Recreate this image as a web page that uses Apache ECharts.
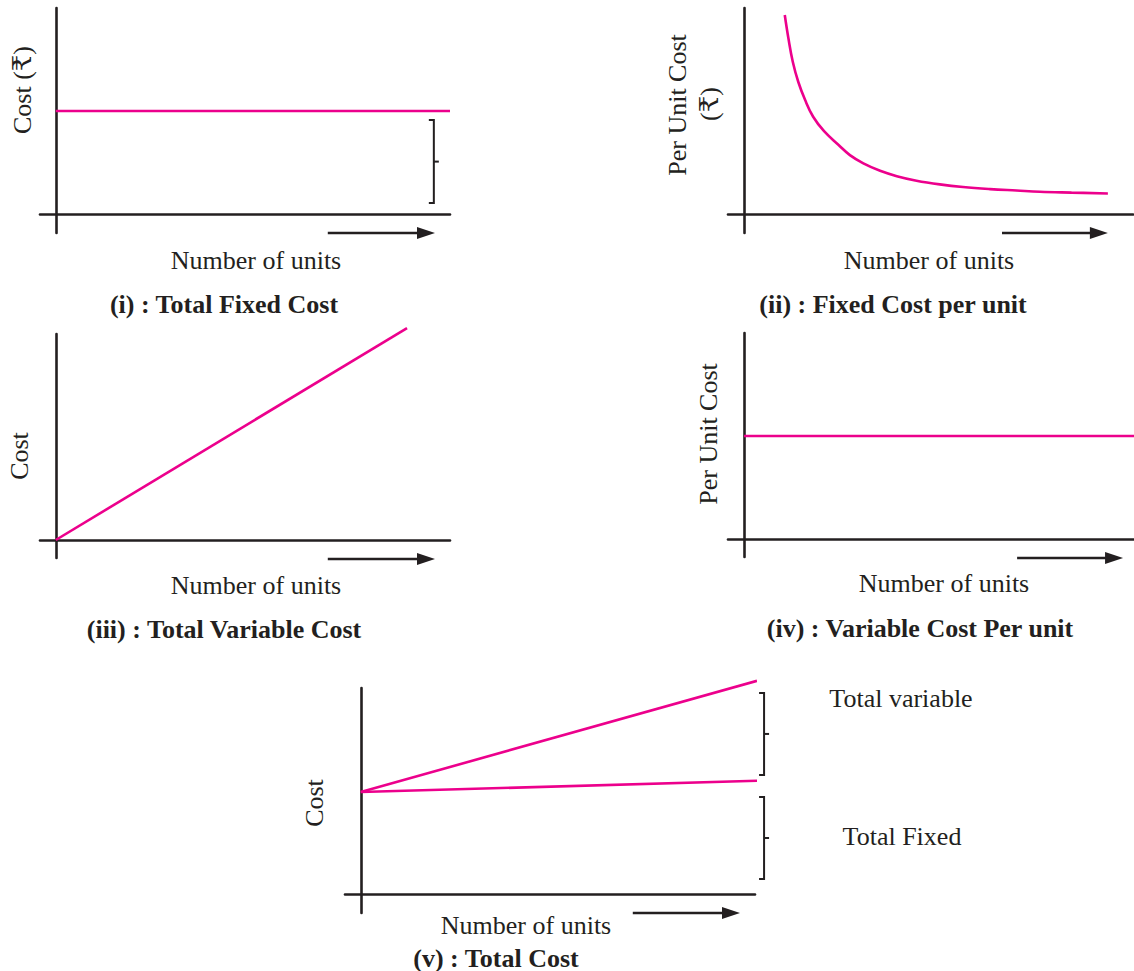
<!DOCTYPE html>
<html>
<head>
<meta charset="utf-8">
<script src="https://cdn.jsdelivr.net/npm/echarts@6/dist/echarts.min.js"></script>
<style>
  html, body { margin: 0; padding: 0; background: #ffffff; }
  #chart { width: 1134px; height: 971px; }
</style>
</head>
<body>
<div id="chart"></div>
<script>
// ---------- data (conceptual units) ----------
const totalFixedCost      = [[0, 5.0], [10, 5.0]];
const fixedCostPerUnit    = [[1.12, 9.66], [1.22, 8.53], [1.34, 7.39], [1.49, 6.42], [1.68, 5.53],
                             [1.9, 4.72], [2.2, 4.02], [2.6, 3.35], [2.91, 2.86], [3.28, 2.46],
                             [3.74, 2.1], [4.2, 1.84], [4.74, 1.62], [5.38, 1.44], [6.02, 1.31],
                             [6.76, 1.21], [7.49, 1.14], [8.13, 1.08], [9.0, 1.04], [10.0, 1.0]];
const totalVariableCost   = [[0, 0], [8.91, 10.29]];
const variableCostPerUnit = [[0, 5.0], [10.71, 5.0]];
const totalCostUpper      = [[0, 4.95], [10.05, 10.35]];
const totalCostLower      = [[0, 4.95], [10.1, 5.5]];

// braces: [x, yBottom, yTop]
const braceI = [[9.59, 0.53, 4.56]];
const braceV = [[10.23, 5.78, 9.76], [10.23, 0.73, 4.71]];
// direction arrows: [xStart, xEnd, y]
const arrowI   = [[6.9, 9.62, -0.92]];
const arrowII  = [[7.09, 10.0, -0.92]];
const arrowIII = [[6.9, 9.62, -0.92]];
const arrowIV  = [[7.5, 10.41, -0.92]];
const arrowV   = [[6.9, 9.62, -0.92]];

// texts
const xName = 'Number of units';
const titles = ['(i) : Total Fixed Cost', '(ii) : Fixed Cost per unit', '(iii) : Total Variable Cost',
                '(iv) : Variable Cost Per unit', '(v) : Total Cost'];
const yNames = ['Cost (₹)', 'Per Unit Cost', 'Cost', 'Per Unit Cost', 'Cost'];
const sideLabels = ['Total variable', 'Total Fixed'];

// ---------- styling ----------
const PINK = '#ec008c';
const INK = '#231f20';
const FONT = "'Liberation Serif', 'Times New Roman', 'DejaVu Serif', serif";

const grids = [
  { left: 40,  top: 8,   width: 410, height: 225 },
  { left: 728, top: 8,   width: 405, height: 225 },
  { left: 40,  top: 334, width: 410, height: 224 },
  { left: 728, top: 333, width: 406, height: 224 },
  { left: 345, top: 688, width: 410, height: 225 }
];
const xRanges = [[-0.4, 10], [-0.44, 10.69], [-0.4, 10], [-0.44, 10.71], [-0.4, 10]];
const yRanges = [[-0.92, 10], [-0.92, 10], [-0.874, 10], [-0.874, 10], [-0.92, 10]];

function axis(i, range) {
  return {
    type: 'value', gridIndex: i, min: range[0], max: range[1],
    axisLine: { show: true, onZero: true, lineStyle: { color: INK, width: 2.6 } },
    axisTick: { show: false }, axisLabel: { show: false }, splitLine: { show: false }
  };
}

function lineSeries(i, data, smooth) {
  return {
    type: 'line', xAxisIndex: i, yAxisIndex: i, data: data, symbol: 'none',
    smooth: smooth ? 0.4 : false,
    clip: false, silent: true,
    lineStyle: { color: PINK, width: 2.6 }
  };
}

function braceSeries(i, data) {
  return {
    type: 'custom', xAxisIndex: i, yAxisIndex: i, data: data, silent: true, clip: false,
    renderItem: function (params, api) {
      const x = api.value(0), y0 = api.value(1), y1 = api.value(2);
      const top = api.coord([x, y1]), bot = api.coord([x, y0]), mid = api.coord([x, (y0 + y1) / 2]);
      const st = { stroke: INK, lineWidth: 2, fill: null };
      return {
        type: 'group', children: [
          { type: 'polyline', shape: { points: [[top[0] - 5, top[1]], top, bot, [bot[0] - 5, bot[1]]] }, style: st },
          { type: 'line', shape: { x1: mid[0], y1: mid[1], x2: mid[0] + 5, y2: mid[1] }, style: st }
        ]
      };
    }
  };
}

function arrowSeries(i, data) {
  return {
    type: 'custom', xAxisIndex: i, yAxisIndex: i, data: data, silent: true, clip: false,
    encode: { x: [0, 1], y: 2 },
    renderItem: function (params, api) {
      const a = api.coord([api.value(0), api.value(2)]);
      const b = api.coord([api.value(1), api.value(2)]);
      const head = 18, half = 6;
      return {
        type: 'group', children: [
          { type: 'line', shape: { x1: a[0], y1: a[1], x2: b[0] - head + 2, y2: b[1] },
            style: { stroke: INK, lineWidth: 2.6 } },
          { type: 'polygon', shape: { points: [[b[0], b[1]], [b[0] - head, b[1] - half], [b[0] - head, b[1] + half]] },
            style: { fill: INK } }
        ]
      };
    }
  };
}

function txt(text, x, y, opts) {
  opts = opts || {};
  return {
    type: 'text', x: x, y: y, rotation: opts.rot ? Math.PI / 2 : 0, silent: true,
    style: {
      text: text, fill: INK, fontSize: opts.size || 26, fontFamily: FONT,
      fontWeight: opts.bold ? 'bold' : 'normal',
      textAlign: 'center', textVerticalAlign: 'middle', align: 'center', verticalAlign: 'middle'
    }
  };
}

const option = {
  animation: false,
  backgroundColor: '#ffffff',
  grid: grids,
  xAxis: grids.map((g, i) => axis(i, xRanges[i])),
  yAxis: grids.map((g, i) => axis(i, yRanges[i])),
  series: [
    lineSeries(0, totalFixedCost),
    lineSeries(1, fixedCostPerUnit, true),
    lineSeries(2, totalVariableCost),
    lineSeries(3, variableCostPerUnit),
    lineSeries(4, totalCostUpper),
    lineSeries(4, totalCostLower),
    braceSeries(0, braceI),
    braceSeries(4, braceV),
    arrowSeries(0, arrowI),
    arrowSeries(1, arrowII),
    arrowSeries(2, arrowIII),
    arrowSeries(3, arrowIV),
    arrowSeries(4, arrowV)
  ],
  graphic: [
    // panel i
    txt(yNames[0], 22, 90, { rot: true }),
    txt(xName, 256, 260),
    txt(titles[0], 224, 304, { bold: true }),
    // panel ii
    txt(yNames[1], 677, 105, { rot: true }),
    txt('(₹)', 709, 104, { rot: true }),
    txt(xName, 929, 260),
    txt(titles[1], 893, 304, { bold: true }),
    // panel iii
    txt(yNames[2], 19, 456, { rot: true }),
    txt(xName, 256, 585),
    txt(titles[2], 224, 629, { bold: true }),
    // panel iv
    txt(yNames[3], 708, 434, { rot: true }),
    txt(xName, 944, 583),
    txt(titles[3], 920, 628, { bold: true }),
    // panel v
    txt(yNames[4], 314, 803, { rot: true }),
    txt(xName, 526, 925),
    txt(titles[4], 496, 958, { bold: true }),
    txt(sideLabels[0], 901, 698),
    txt(sideLabels[1], 902, 836)
  ]
};

const chart = echarts.init(document.getElementById('chart'), null, { renderer: 'svg' });
chart.setOption(option);
</script>
</body>
</html>
